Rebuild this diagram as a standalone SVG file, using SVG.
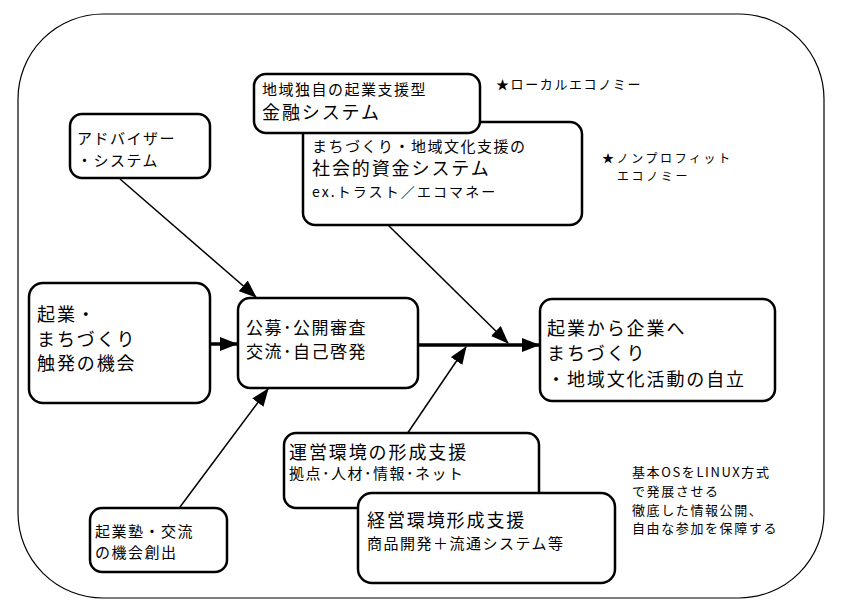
<svg xmlns="http://www.w3.org/2000/svg" width="847" height="611" viewBox="0 0 847 611">
<style>
.box{fill:#fff;stroke:#000;stroke-width:2.5}
.t{font-family:"Noto Sans CJK JP","Noto Sans CJK SC",sans-serif;fill:#000}
.L{font-size:18px;letter-spacing:1.9px}
.M{font-size:15px;letter-spacing:1.5px}
.E{font-size:14px;letter-spacing:2.1px}
.P{font-size:17px;letter-spacing:1.5px}
.S{font-size:13px;letter-spacing:1.6px}
.N{font-size:12px;letter-spacing:2.6px}
.ln{stroke:#000;stroke-width:1.5;fill:none}
.thick{stroke:#000;stroke-width:3.5;fill:none}
</style>
<defs>
<marker id="ah" markerUnits="userSpaceOnUse" markerWidth="18" markerHeight="14" refX="17" refY="7" orient="auto">
<path d="M0,0 L18,7 L0,14 Z" fill="#000"/>
</marker>
</defs>
<rect x="18" y="14" width="806" height="584" rx="85" ry="85" fill="none" stroke="#000" stroke-width="1.2"/>

<g id="connectors">
<line class="ln" x1="120" y1="179" x2="256" y2="297" marker-end="url(#ah)"/>
<line class="thick" x1="210" y1="344" x2="237" y2="344" marker-end="url(#ah)"/>
<line class="ln" x1="180" y1="507" x2="268" y2="389" marker-end="url(#ah)"/>
<line class="thick" x1="418" y1="345" x2="539" y2="345" marker-end="url(#ah)"/>
<line class="ln" x1="388" y1="225" x2="508" y2="343" marker-end="url(#ah)"/>
<line class="ln" x1="407" y1="434" x2="466" y2="347" marker-end="url(#ah)"/>
</g>

<g id="n-social">
<rect class="box" x="303" y="122" width="279" height="103" rx="12"/>
<text class="t M" x="312" y="152">まちづくり・地域文化支援の</text>
<text class="t L" x="312" y="175">社会的資金システム</text>
<text class="t E" x="312" y="197">ex.トラスト／エコマネー</text>
</g>
<g id="n-finance">
<rect class="box" x="254" y="74" width="226" height="59" rx="12"/>
<text class="t M" x="262" y="95">地域独自の起業支援型</text>
<text class="t L" x="262" y="119">金融システム</text>
</g>
<g id="n-local">
<text class="t S" x="496" y="89">★ローカルエコノミー</text>
</g>
<g id="n-nonprofit">
<text class="t N" x="602" y="163">★ノンプロフィット</text>
<text class="t N" x="617" y="181">エコノミー</text>
</g>
<g id="n-advisor">
<rect class="box" x="70" y="114" width="140" height="64" rx="12"/>
<text class="t M" x="77" y="144">アドバイザー</text>
<text class="t M" x="77" y="166">・システム</text>
</g>
<g id="n-trigger">
<rect class="box" x="29" y="283" width="181" height="120" rx="14"/>
<text class="t L" x="37" y="321">起業・</text>
<text class="t L" x="37" y="346">まちづくり</text>
<text class="t L" x="37" y="370">触発の機会</text>
</g>
<g id="n-public">
<rect class="box" x="238" y="298" width="180" height="90" rx="12"/>
<text class="t P" x="246" y="334">公募･公開審査</text>
<text class="t P" x="246" y="358">交流･自己啓発</text>
</g>
<g id="n-goal">
<rect class="box" x="540" y="299" width="235" height="102" rx="12"/>
<text class="t L" x="547" y="335">起業から企業へ</text>
<text class="t L" x="547" y="360">まちづくり</text>
<text class="t L" x="547" y="386">・地域文化活動の自立</text>
</g>
<g id="n-operate">
<rect class="box" x="284" y="433" width="255" height="75" rx="12"/>
<text class="t L" x="289" y="459">運営環境の形成支援</text>
<text class="t M" x="289" y="479">拠点･人材･情報･ネット</text>
</g>
<g id="n-manage">
<rect class="box" x="358" y="493" width="257" height="90" rx="14"/>
<text class="t L" x="367" y="527">経営環境形成支援</text>
<text class="t M" x="367" y="549">商品開発＋流通システム等</text>
</g>
<g id="n-school">
<rect class="box" x="90" y="508" width="137" height="64" rx="12"/>
<text class="t M" x="95" y="537">起業塾・交流</text>
<text class="t M" x="95" y="558">の機会創出</text>
</g>
<g id="n-linux">
<text class="t S" x="632" y="477">基本OSをLINUX方式</text>
<text class="t S" x="632" y="496">で発展させる</text>
<text class="t S" x="632" y="515">徹底した情報公開、</text>
<text class="t S" x="632" y="533">自由な参加を保障する</text>
</g>
</svg>
